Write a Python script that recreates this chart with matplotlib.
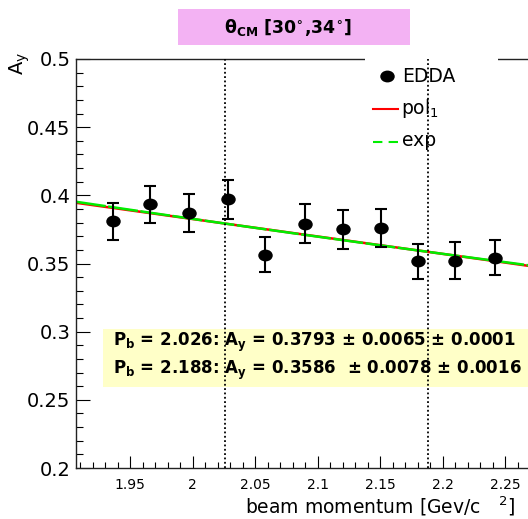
import numpy as np
import matplotlib
matplotlib.use("Agg")
import matplotlib.pyplot as plt
from matplotlib.patches import Rectangle
from matplotlib.path import Path
from matplotlib.lines import Line2D
from matplotlib.transforms import Affine2D
from matplotlib.ticker import MultipleLocator, FixedLocator, FixedFormatter

plt.rcParams.update({
    "font.family": "DejaVu Sans",
    "mathtext.fontset": "dejavusans",
    "mathtext.default": "regular",
})

# EDDA analysing power, theta_cm bin [30, 34] deg
p_beam = [1.936, 1.966, 1.997, 2.028, 2.058, 2.090, 2.120, 2.151, 2.180, 2.210, 2.242]
a_y = [0.3810, 0.3935, 0.3870, 0.3970, 0.3565, 0.3792, 0.3750, 0.3760, 0.3517, 0.3522, 0.3542]
a_y_err = [0.0137, 0.0137, 0.0140, 0.0140, 0.0131, 0.0142, 0.0142, 0.0139, 0.0129, 0.0135, 0.0130]

# fit results at the two reference beam momenta
p_ref = [2.026, 2.188]
a_ref = [0.3793, 0.3586]
stat_err = [0.0065, 0.0078]
sys_err = [0.0001, 0.0016]

x_ticks = [1.95, 2.0, 2.05, 2.1, 2.15, 2.2, 2.25]
x_ticklabels = ["1.95", "2", "2.05", "2.1", "2.15", "2.2", "2.25"]
y_ticks = [0.2, 0.25, 0.3, 0.35, 0.4, 0.45, 0.5]
y_ticklabels = ["0.2", "0.25", "0.3", "0.35", "0.4", "0.45", "0.5"]

W, H = 528, 519
XMIN, XMAX = 1.9068, 2.29
YMIN, YMAX = 0.2, 0.5


def fx(px):
    return px / W


def fy(py):
    return 1 - py / H


fig = plt.figure(figsize=(W / 100, H / 100), dpi=100)
ax_left, ax_bottom = fx(76), fy(468)
ax_h = (468 - 59) / H
ax_w = (XMAX - XMIN) * 1250 / W
ax = fig.add_axes([ax_left, ax_bottom, ax_w, ax_h])
ax.set_xlim(XMIN, XMAX)
ax.set_ylim(YMIN, YMAX)

# pol1 and exp fits pinned to the quoted values
xs = np.linspace(XMIN, XMAX, 200)
slope = (a_ref[1] - a_ref[0]) / (p_ref[1] - p_ref[0])
pol1 = a_ref[0] + slope * (xs - p_ref[0])
k = np.log(a_ref[1] / a_ref[0]) / (p_ref[1] - p_ref[0])
expo = a_ref[0] * np.exp(k * (xs - p_ref[0]))
ax.plot(xs, pol1, color="#ff0000", lw=1.8, zorder=2)
ax.plot(xs, expo, color="#00ee00", lw=1.8, ls=(0, (12, 1)), zorder=2.1)

# flattened round marker
ell = Path.unit_circle().transformed(Affine2D().scale(1.25, 1.0))
ax.errorbar(p_beam, a_y, yerr=a_y_err, fmt="none", ecolor="black",
            elinewidth=1.5, capsize=4.3, capthick=1.5, zorder=3)
ax.plot(p_beam, a_y, ls="none", marker=ell, ms=9.4, color="black", zorder=3.1)

# white legend pad over the frame
ax.add_artist(Rectangle((fx(365), fy(160)), fx(498) - fx(365), (160 - 50) / H,
                        transform=fig.transFigure, facecolor="white",
                        edgecolor="none", zorder=3.5, clip_on=False))

# yellow results box
ax.add_artist(Rectangle((fx(103), fy(387)), fx(600) - fx(103), (387 - 329) / H,
                        transform=fig.transFigure, facecolor="#ffffc8",
                        edgecolor="none", zorder=1.5, clip_on=False))

for p in p_ref:
    ax.axvline(p, color="black", lw=1.3, ls=(0, (1, 1.4)), zorder=4)

ax.xaxis.set_major_locator(FixedLocator(x_ticks))
ax.xaxis.set_major_formatter(FixedFormatter(x_ticklabels))
ax.yaxis.set_major_locator(FixedLocator(y_ticks))
ax.yaxis.set_major_formatter(FixedFormatter(y_ticklabels))
ax.xaxis.set_minor_locator(MultipleLocator(0.01))
ax.yaxis.set_minor_locator(MultipleLocator(0.01))
ax.tick_params(axis="y", which="major", direction="in", length=10, width=0.8,
               labelsize=14, pad=4)
ax.tick_params(axis="y", which="minor", direction="in", length=5, width=0.8)
ax.tick_params(axis="x", which="major", direction="in", length=8.6, width=0.8,
               labelsize=10, pad=7)
ax.tick_params(axis="x", which="minor", direction="in", length=4.3, width=0.8)
for s in ax.spines.values():
    s.set_linewidth(1.0)
    s.set_color("#222222")

# axis titles
fig.text(fx(20), fy(52), r"A$_{y}$", rotation=90, ha="center", va="top", fontsize=14)
fig.text(fx(515), fy(514), r"beam momentum [Gev/c   $^{2}$]", ha="right",
         va="baseline", fontsize=13.5)

# title pad
fig.add_artist(Rectangle((fx(178), fy(45)), fx(410) - fx(178), (45 - 9) / H,
                         transform=fig.transFigure, facecolor="#f3b2f3",
                         edgecolor="none"))
fig.text(fx(288), fy(27), r"$\theta_{\mathbf{CM}}$ [30$^{\circ}$,34$^{\circ}$]",
         ha="center", va="center", fontsize=12.5, fontweight="bold")

# legend entries
fig.add_artist(Line2D([fx(387)], [fy(76)], ls="none", marker=ell, ms=9.4,
                      color="black", transform=fig.transFigure))
fig.text(fx(402), fy(77), "EDDA", va="center", fontsize=13.5)
fig.add_artist(Line2D([fx(373), fx(398)], [fy(109), fy(109)], color="#ff0000",
                      lw=1.5, transform=fig.transFigure))
fig.text(fx(401), fy(109), r"pol$_{1}$", va="center", fontsize=13.5)
fig.add_artist(Line2D([fx(373), fx(398)], [fy(142), fy(142)], color="#00ee00",
                      lw=1.5, ls=(0, (4.5, 3)), transform=fig.transFigure))
fig.text(fx(402), fy(141), "exp", va="center", fontsize=13.5)

# fit results text
for i, (p, a, es, ey) in enumerate(zip(p_ref, a_ref, stat_err, sys_err)):
    gap = " " if i == 0 else "  "
    line = (r"P$_{\mathbf{b}}$ = %.3f: A$_{\mathbf{y}}$ = %.4f%s± %.4f ± %.4f"
            % (p, a, gap, es, ey))
    fig.text(fx(113), fy(342 + 28 * i), line, va="center", fontsize=12,
             fontweight="bold")

fig.savefig("out.png", dpi=100)
